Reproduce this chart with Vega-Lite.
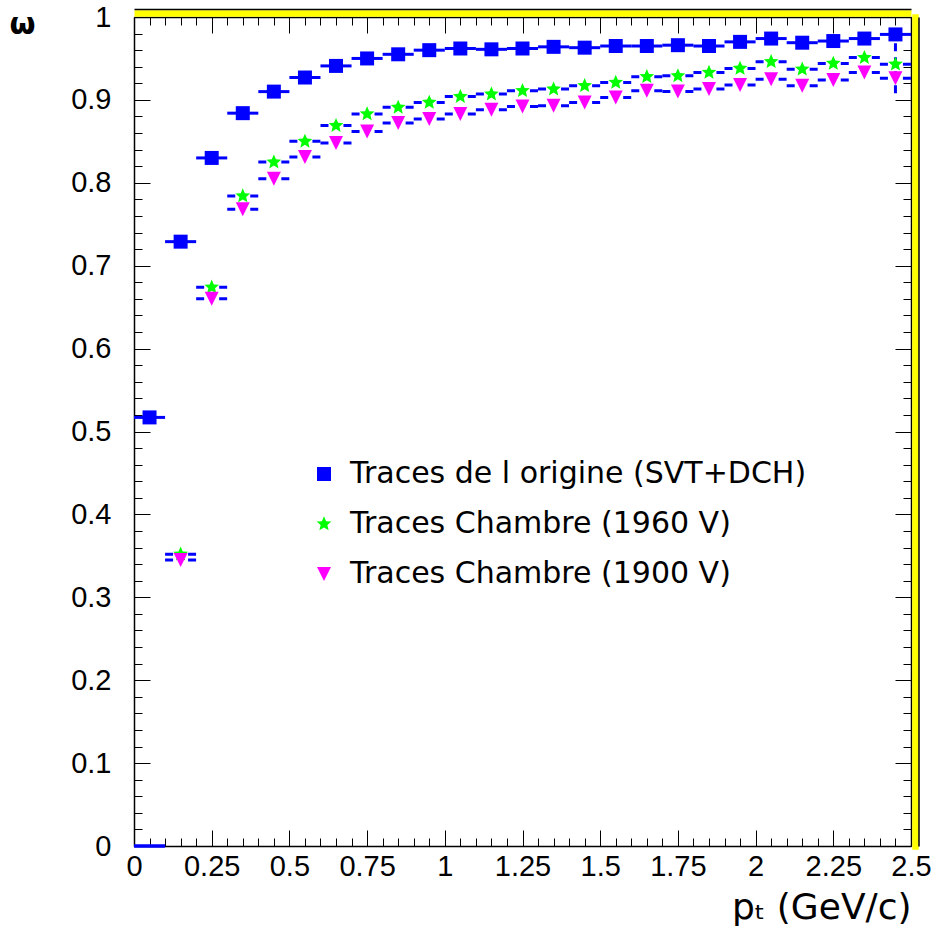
{
  "$schema": "https://vega.github.io/schema/vega-lite/v6.json",
  "width": 777,
  "height": 829,
  "autosize": {"type": "none"},
  "padding": {"left": 134, "top": 17, "right": 26, "bottom": 90},
  "background": "white",
  "config": {"view": {"stroke": null}},
  "datasets": {
    "pts": [
      {"series": "Traces de l origine (SVT+DCH)", "pt": 0.05, "lo": 0.0, "hi": 0.1, "w": 0.517},
      {"series": "Traces de l origine (SVT+DCH)", "pt": 0.15, "lo": 0.1, "hi": 0.2, "w": 0.729},
      {"series": "Traces de l origine (SVT+DCH)", "pt": 0.25, "lo": 0.2, "hi": 0.3, "w": 0.830},
      {"series": "Traces de l origine (SVT+DCH)", "pt": 0.35, "lo": 0.3, "hi": 0.4, "w": 0.884},
      {"series": "Traces de l origine (SVT+DCH)", "pt": 0.45, "lo": 0.4, "hi": 0.5, "w": 0.910},
      {"series": "Traces de l origine (SVT+DCH)", "pt": 0.55, "lo": 0.5, "hi": 0.6, "w": 0.927},
      {"series": "Traces de l origine (SVT+DCH)", "pt": 0.65, "lo": 0.6, "hi": 0.7, "w": 0.941},
      {"series": "Traces de l origine (SVT+DCH)", "pt": 0.75, "lo": 0.7, "hi": 0.8, "w": 0.950},
      {"series": "Traces de l origine (SVT+DCH)", "pt": 0.85, "lo": 0.8, "hi": 0.9, "w": 0.955},
      {"series": "Traces de l origine (SVT+DCH)", "pt": 0.95, "lo": 0.9, "hi": 1.0, "w": 0.960},
      {"series": "Traces de l origine (SVT+DCH)", "pt": 1.05, "lo": 1.0, "hi": 1.1, "w": 0.962},
      {"series": "Traces de l origine (SVT+DCH)", "pt": 1.15, "lo": 1.1, "hi": 1.2, "w": 0.961},
      {"series": "Traces de l origine (SVT+DCH)", "pt": 1.25, "lo": 1.2, "hi": 1.3, "w": 0.962},
      {"series": "Traces de l origine (SVT+DCH)", "pt": 1.35, "lo": 1.3, "hi": 1.4, "w": 0.964},
      {"series": "Traces de l origine (SVT+DCH)", "pt": 1.45, "lo": 1.4, "hi": 1.5, "w": 0.963},
      {"series": "Traces de l origine (SVT+DCH)", "pt": 1.55, "lo": 1.5, "hi": 1.6, "w": 0.965},
      {"series": "Traces de l origine (SVT+DCH)", "pt": 1.65, "lo": 1.6, "hi": 1.7, "w": 0.965},
      {"series": "Traces de l origine (SVT+DCH)", "pt": 1.75, "lo": 1.7, "hi": 1.8, "w": 0.966},
      {"series": "Traces de l origine (SVT+DCH)", "pt": 1.85, "lo": 1.8, "hi": 1.9, "w": 0.965},
      {"series": "Traces de l origine (SVT+DCH)", "pt": 1.95, "lo": 1.9, "hi": 2.0, "w": 0.970},
      {"series": "Traces de l origine (SVT+DCH)", "pt": 2.05, "lo": 2.0, "hi": 2.1, "w": 0.974},
      {"series": "Traces de l origine (SVT+DCH)", "pt": 2.15, "lo": 2.1, "hi": 2.2, "w": 0.969},
      {"series": "Traces de l origine (SVT+DCH)", "pt": 2.25, "lo": 2.2, "hi": 2.3, "w": 0.971},
      {"series": "Traces de l origine (SVT+DCH)", "pt": 2.35, "lo": 2.3, "hi": 2.4, "w": 0.974},
      {"series": "Traces de l origine (SVT+DCH)", "pt": 2.45, "lo": 2.4, "hi": 2.5, "w": 0.979},
      {"series": "Traces Chambre (1960 V)", "pt": 0.05, "lo": 0.0, "hi": 0.1, "w": 0},
      {"series": "Traces Chambre (1960 V)", "pt": 0.15, "lo": 0.1, "hi": 0.2, "w": 0.352},
      {"series": "Traces Chambre (1960 V)", "pt": 0.25, "lo": 0.2, "hi": 0.3, "w": 0.674},
      {"series": "Traces Chambre (1960 V)", "pt": 0.35, "lo": 0.3, "hi": 0.4, "w": 0.784},
      {"series": "Traces Chambre (1960 V)", "pt": 0.45, "lo": 0.4, "hi": 0.5, "w": 0.825},
      {"series": "Traces Chambre (1960 V)", "pt": 0.55, "lo": 0.5, "hi": 0.6, "w": 0.850},
      {"series": "Traces Chambre (1960 V)", "pt": 0.65, "lo": 0.6, "hi": 0.7, "w": 0.869},
      {"series": "Traces Chambre (1960 V)", "pt": 0.75, "lo": 0.7, "hi": 0.8, "w": 0.883},
      {"series": "Traces Chambre (1960 V)", "pt": 0.85, "lo": 0.8, "hi": 0.9, "w": 0.891},
      {"series": "Traces Chambre (1960 V)", "pt": 0.95, "lo": 0.9, "hi": 1.0, "w": 0.897},
      {"series": "Traces Chambre (1960 V)", "pt": 1.05, "lo": 1.0, "hi": 1.1, "w": 0.904},
      {"series": "Traces Chambre (1960 V)", "pt": 1.15, "lo": 1.1, "hi": 1.2, "w": 0.907},
      {"series": "Traces Chambre (1960 V)", "pt": 1.25, "lo": 1.2, "hi": 1.3, "w": 0.911},
      {"series": "Traces Chambre (1960 V)", "pt": 1.35, "lo": 1.3, "hi": 1.4, "w": 0.913},
      {"series": "Traces Chambre (1960 V)", "pt": 1.45, "lo": 1.4, "hi": 1.5, "w": 0.917},
      {"series": "Traces Chambre (1960 V)", "pt": 1.55, "lo": 1.5, "hi": 1.6, "w": 0.921},
      {"series": "Traces Chambre (1960 V)", "pt": 1.65, "lo": 1.6, "hi": 1.7, "w": 0.928},
      {"series": "Traces Chambre (1960 V)", "pt": 1.75, "lo": 1.7, "hi": 1.8, "w": 0.929},
      {"series": "Traces Chambre (1960 V)", "pt": 1.85, "lo": 1.8, "hi": 1.9, "w": 0.933},
      {"series": "Traces Chambre (1960 V)", "pt": 1.95, "lo": 1.9, "hi": 2.0, "w": 0.938},
      {"series": "Traces Chambre (1960 V)", "pt": 2.05, "lo": 2.0, "hi": 2.1, "w": 0.946},
      {"series": "Traces Chambre (1960 V)", "pt": 2.15, "lo": 2.1, "hi": 2.2, "w": 0.937},
      {"series": "Traces Chambre (1960 V)", "pt": 2.25, "lo": 2.2, "hi": 2.3, "w": 0.944},
      {"series": "Traces Chambre (1960 V)", "pt": 2.35, "lo": 2.3, "hi": 2.4, "w": 0.951},
      {"series": "Traces Chambre (1960 V)", "pt": 2.45, "lo": 2.4, "hi": 2.5, "w": 0.943},
      {"series": "Traces Chambre (1900 V)", "pt": 0.05, "lo": 0.0, "hi": 0.1, "w": 0},
      {"series": "Traces Chambre (1900 V)", "pt": 0.15, "lo": 0.1, "hi": 0.2, "w": 0.345},
      {"series": "Traces Chambre (1900 V)", "pt": 0.25, "lo": 0.2, "hi": 0.3, "w": 0.660},
      {"series": "Traces Chambre (1900 V)", "pt": 0.35, "lo": 0.3, "hi": 0.4, "w": 0.768},
      {"series": "Traces Chambre (1900 V)", "pt": 0.45, "lo": 0.4, "hi": 0.5, "w": 0.805},
      {"series": "Traces Chambre (1900 V)", "pt": 0.55, "lo": 0.5, "hi": 0.6, "w": 0.831},
      {"series": "Traces Chambre (1900 V)", "pt": 0.65, "lo": 0.6, "hi": 0.7, "w": 0.848},
      {"series": "Traces Chambre (1900 V)", "pt": 0.75, "lo": 0.7, "hi": 0.8, "w": 0.862},
      {"series": "Traces Chambre (1900 V)", "pt": 0.85, "lo": 0.8, "hi": 0.9, "w": 0.872},
      {"series": "Traces Chambre (1900 V)", "pt": 0.95, "lo": 0.9, "hi": 1.0, "w": 0.877},
      {"series": "Traces Chambre (1900 V)", "pt": 1.05, "lo": 1.0, "hi": 1.1, "w": 0.883},
      {"series": "Traces Chambre (1900 V)", "pt": 1.15, "lo": 1.1, "hi": 1.2, "w": 0.888},
      {"series": "Traces Chambre (1900 V)", "pt": 1.25, "lo": 1.2, "hi": 1.3, "w": 0.892},
      {"series": "Traces Chambre (1900 V)", "pt": 1.35, "lo": 1.3, "hi": 1.4, "w": 0.893},
      {"series": "Traces Chambre (1900 V)", "pt": 1.45, "lo": 1.4, "hi": 1.5, "w": 0.897},
      {"series": "Traces Chambre (1900 V)", "pt": 1.55, "lo": 1.5, "hi": 1.6, "w": 0.903},
      {"series": "Traces Chambre (1900 V)", "pt": 1.65, "lo": 1.6, "hi": 1.7, "w": 0.911},
      {"series": "Traces Chambre (1900 V)", "pt": 1.75, "lo": 1.7, "hi": 1.8, "w": 0.910},
      {"series": "Traces Chambre (1900 V)", "pt": 1.85, "lo": 1.8, "hi": 1.9, "w": 0.913},
      {"series": "Traces Chambre (1900 V)", "pt": 1.95, "lo": 1.9, "hi": 2.0, "w": 0.918},
      {"series": "Traces Chambre (1900 V)", "pt": 2.05, "lo": 2.0, "hi": 2.1, "w": 0.925},
      {"series": "Traces Chambre (1900 V)", "pt": 2.15, "lo": 2.1, "hi": 2.2, "w": 0.917},
      {"series": "Traces Chambre (1900 V)", "pt": 2.25, "lo": 2.2, "hi": 2.3, "w": 0.924},
      {"series": "Traces Chambre (1900 V)", "pt": 2.35, "lo": 2.3, "hi": 2.4, "w": 0.933},
      {"series": "Traces Chambre (1900 V)", "pt": 2.45, "lo": 2.4, "hi": 2.5, "w": 0.926}
    ],
    "vbar": [
      {"series": "Traces Chambre (1960 V)", "pt": 2.45, "wlo": 0.908, "whi": 0.988}
    ]
  },
  "resolve": {
    "scale": {"x": "independent", "y": "independent"},
    "axis": {"x": "independent", "y": "independent"}
  },
  "layer": [
    {
      "data": {"name": "pts"},
      "transform": [{"filter": "datum.series === 'Traces de l origine (SVT+DCH)'"}],
      "mark": {"type": "rule", "color": "#0000ff", "strokeWidth": 3},
      "encoding": {
        "x": {
          "field": "lo", "type": "quantitative",
          "scale": {"domain": [0, 2.5], "nice": false, "zero": false},
          "axis": {
            "orient": "bottom",
            "values": [0, 0.25, 0.5, 0.75, 1, 1.25, 1.5, 1.75, 2, 2.25, 2.5],
            "labelExpr": "'' + datum.value",
            "grid": false,
            "tickSize": -16, "tickColor": "black", "tickWidth": 1,
            "domainColor": "black", "domainWidth": 1.5,
            "labelFont": "Liberation Sans", "labelFontSize": 29, "labelColor": "black",
            "labelPadding": 22, "labelFlush": false, "labelOverlap": false,
            "title": "pₜ (GeV/c)",
            "titleFont": "DejaVu Sans", "titleFontSize": 36, "titleFontWeight": "normal", "titleColor": "black",
            "titleAnchor": "end", "titleAlign": "right", "titleBaseline": "alphabetic",
            "titleX": 777, "titleY": 72
          }
        },
        "x2": {"field": "hi"},
        "y": {
          "field": "w", "type": "quantitative",
          "scale": {"domain": [0, 1], "nice": false, "zero": false},
          "axis": {
            "orient": "left",
            "values": [0, 0.1, 0.2, 0.3, 0.4, 0.5, 0.6, 0.7, 0.8, 0.9, 1],
            "labelExpr": "'' + datum.value",
            "grid": false,
            "tickSize": -16, "tickColor": "black", "tickWidth": 1,
            "domainColor": "black", "domainWidth": 1.5,
            "labelFont": "Liberation Sans", "labelFontSize": 29, "labelColor": "black",
            "labelPadding": 39, "labelFlush": false, "labelOverlap": false,
            "title": "ω",
            "titleFont": "DejaVu Sans", "titleFontSize": 30, "titleFontWeight": "bold", "titleColor": "black",
            "titleAngle": 0, "titleAlign": "center", "titleBaseline": "alphabetic",
            "titleX": -112, "titleY": 16
          }
        }
      }
    },
    {
      "data": {"name": "pts"},
      "transform": [{"filter": "datum.series !== 'Traces de l origine (SVT+DCH)' && datum.w > 0"}],
      "mark": {"type": "rule", "color": "#0000ff", "strokeWidth": 3, "strokeDash": [8, 15]},
      "encoding": {
        "x": {
          "field": "lo", "type": "quantitative",
          "scale": {"domain": [0, 2.5], "nice": false, "zero": false},
          "axis": {
            "orient": "bottom",
            "values": [0.05, 0.1, 0.15, 0.2, 0.3, 0.35, 0.4, 0.45, 0.55, 0.6, 0.65, 0.7, 0.8, 0.85, 0.9, 0.95, 1.05, 1.1, 1.15, 1.2, 1.3, 1.35, 1.4, 1.45, 1.55, 1.6, 1.65, 1.7, 1.8, 1.85, 1.9, 1.95, 2.05, 2.1, 2.15, 2.2, 2.3, 2.35, 2.4, 2.45],
            "grid": false, "domain": false, "labels": false, "title": null,
            "tickSize": -8, "tickColor": "black", "tickWidth": 1
          }
        },
        "x2": {"field": "hi"},
        "y": {
          "field": "w", "type": "quantitative",
          "scale": {"domain": [0, 1], "nice": false, "zero": false},
          "axis": {
            "orient": "left",
            "values": [0.02, 0.04, 0.06, 0.08, 0.12, 0.14, 0.16, 0.18, 0.22, 0.24, 0.26, 0.28, 0.32, 0.34, 0.36, 0.38, 0.42, 0.44, 0.46, 0.48, 0.52, 0.54, 0.56, 0.58, 0.62, 0.64, 0.66, 0.68, 0.72, 0.74, 0.76, 0.78, 0.82, 0.84, 0.86, 0.88, 0.92, 0.94, 0.96, 0.98],
            "grid": false, "domain": false, "labels": false, "title": null,
            "tickSize": -8, "tickColor": "black", "tickWidth": 1
          }
        }
      }
    },
    {
      "data": {"name": "pts"},
      "transform": [{"filter": "datum.w === 0"}],
      "mark": {"type": "rule", "color": "#0000ff", "strokeWidth": 3},
      "encoding": {
        "x": {
          "field": "lo", "type": "quantitative",
          "scale": {"domain": [0, 2.5], "nice": false, "zero": false},
          "axis": {
            "orient": "top",
            "values": [0, 0.25, 0.5, 0.75, 1, 1.25, 1.5, 1.75, 2, 2.25, 2.5],
            "grid": false, "labels": false, "title": null,
            "tickSize": -16, "tickColor": "black", "tickWidth": 1,
            "domainColor": "black", "domainWidth": 1.5
          }
        },
        "x2": {"field": "hi"},
        "y": {
          "field": "w", "type": "quantitative",
          "scale": {"domain": [0, 1], "nice": false, "zero": false},
          "axis": {
            "orient": "right",
            "values": [0, 0.1, 0.2, 0.3, 0.4, 0.5, 0.6, 0.7, 0.8, 0.9, 1],
            "grid": false, "labels": false, "title": null,
            "tickSize": -16, "tickColor": "black", "tickWidth": 1,
            "domainColor": "black", "domainWidth": 1.5
          }
        }
      }
    },
    {
      "data": {"name": "vbar"},
      "mark": {"type": "rule", "color": "#0000ff", "strokeWidth": 3, "strokeDash": [8, 6]},
      "encoding": {
        "x": {
          "field": "pt", "type": "quantitative",
          "scale": {"domain": [0, 2.5], "nice": false, "zero": false},
          "axis": {
            "orient": "top",
            "values": [0.05, 0.1, 0.15, 0.2, 0.3, 0.35, 0.4, 0.45, 0.55, 0.6, 0.65, 0.7, 0.8, 0.85, 0.9, 0.95, 1.05, 1.1, 1.15, 1.2, 1.3, 1.35, 1.4, 1.45, 1.55, 1.6, 1.65, 1.7, 1.8, 1.85, 1.9, 1.95, 2.05, 2.1, 2.15, 2.2, 2.3, 2.35, 2.4, 2.45],
            "grid": false, "domain": false, "labels": false, "title": null,
            "tickSize": -8, "tickColor": "black", "tickWidth": 1
          }
        },
        "y": {
          "field": "wlo", "type": "quantitative",
          "scale": {"domain": [0, 1], "nice": false, "zero": false},
          "axis": {
            "orient": "right",
            "values": [0.02, 0.04, 0.06, 0.08, 0.12, 0.14, 0.16, 0.18, 0.22, 0.24, 0.26, 0.28, 0.32, 0.34, 0.36, 0.38, 0.42, 0.44, 0.46, 0.48, 0.52, 0.54, 0.56, 0.58, 0.62, 0.64, 0.66, 0.68, 0.72, 0.74, 0.76, 0.78, 0.82, 0.84, 0.86, 0.88, 0.92, 0.94, 0.96, 0.98],
            "grid": false, "domain": false, "labels": false, "title": null,
            "tickSize": -8, "tickColor": "black", "tickWidth": 1
          }
        },
        "y2": {"field": "whi"}
      }
    },
    {
      "data": {"name": "pts"},
      "transform": [{"filter": "datum.series === 'Traces de l origine (SVT+DCH)'"}],
      "mark": {"type": "point", "filled": true, "size": 196, "opacity": 1, "strokeWidth": 0},
      "encoding": {
        "x": {
          "field": "pt", "type": "quantitative",
          "scale": {"domain": [0, 2.5], "nice": false, "zero": false},
          "axis": {
            "orient": "top", "offset": 4,
            "grid": false, "ticks": false, "labels": false, "title": null,
            "domainColor": "#ffff00", "domainWidth": 6.5
          }
        },
        "y": {
          "field": "w", "type": "quantitative",
          "scale": {"domain": [0, 1], "nice": false, "zero": false},
          "axis": {
            "orient": "right", "offset": 4,
            "grid": false, "ticks": false, "labels": false, "title": null,
            "domainColor": "#ffff00", "domainWidth": 6.5, "domainCap": "square"
          }
        },
        "color": {
          "field": "series", "type": "nominal",
          "scale": {
            "domain": ["Traces de l origine (SVT+DCH)", "Traces Chambre (1960 V)", "Traces Chambre (1900 V)"],
            "range": ["#0000ff", "#00ff00", "#ff00ff"]
          },
          "legend": {
            "orient": "none", "legendX": 175, "legendY": 442, "title": null,
            "labelFont": "DejaVu Sans", "labelFontSize": 30, "labelColor": "black",
            "labelLimit": 0, "labelOffset": 11, "rowPadding": 20, "padding": 0,
            "symbolSize": 196, "symbolStrokeWidth": 0, "symbolOpacity": 1
          }
        },
        "shape": {
          "field": "series", "type": "nominal",
          "scale": {
            "domain": ["Traces de l origine (SVT+DCH)", "Traces Chambre (1960 V)", "Traces Chambre (1900 V)"],
            "range": ["square", "M0,-1.1L0.3,-0.4L1.05,-0.35L0.48,0.15L0.66,0.9L0,0.5L-0.66,0.9L-0.48,0.15L-1.05,-0.35L-0.3,-0.4Z", "M-1,-1L1,-1L0,1Z"]
          },
          "legend": {
            "orient": "none", "legendX": 175, "legendY": 442, "title": null,
            "labelFont": "DejaVu Sans", "labelFontSize": 30, "labelColor": "black",
            "labelLimit": 0, "labelOffset": 11, "rowPadding": 20, "padding": 0,
            "symbolSize": 196, "symbolStrokeWidth": 0, "symbolOpacity": 1
          }
        }
      }
    },
    {
      "data": {"name": "pts"},
      "transform": [{"filter": "datum.series !== 'Traces de l origine (SVT+DCH)' && datum.w > 0"}],
      "mark": {"type": "point", "filled": true, "size": 196, "opacity": 1, "strokeWidth": 0},
      "encoding": {
        "x": {
          "field": "pt", "type": "quantitative",
          "scale": {"domain": [0, 2.5], "nice": false, "zero": false},
          "axis": {
            "orient": "top", "offset": 8,
            "grid": false, "ticks": false, "labels": false, "title": null,
            "domainColor": "black", "domainWidth": 1.5
          }
        },
        "y": {
          "field": "w", "type": "quantitative",
          "scale": {"domain": [0, 1], "nice": false, "zero": false},
          "axis": {
            "orient": "right", "offset": 7.5,
            "grid": false, "ticks": false, "labels": false, "title": null,
            "domainColor": "black", "domainWidth": 1.5
          }
        },
        "color": {"field": "series", "type": "nominal"},
        "shape": {"field": "series", "type": "nominal"}
      }
    }
  ]
}
